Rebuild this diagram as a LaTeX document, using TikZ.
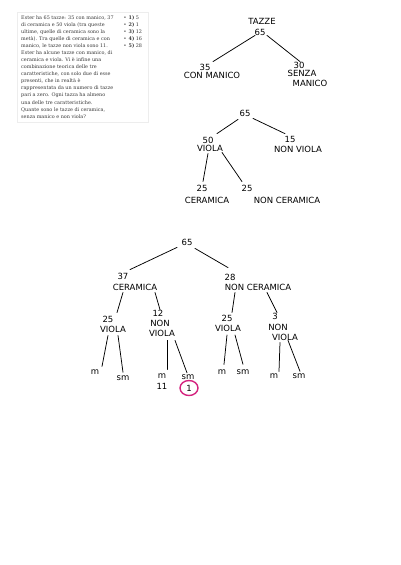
\documentclass[tikz,border=0pt]{standalone}
\usepackage{fontspec}
\setmainfont{DejaVu Serif}
\setsansfont{DejaVu Sans}
\usetikzlibrary{calc}
\definecolor{inkpink}{HTML}{D4237E}
\definecolor{paneltext}{HTML}{3A3A3A}
\begin{document}
\begin{tikzpicture}[x=1pt,y=-1pt,
  hand/.style={font=\sffamily\fontsize{8.5}{9}\selectfont, inner sep=0pt, align=center},
  edge/.style={line width=0.75pt, line cap=round},
  paneltxt/.style={font=\fontsize{4.9}{7.05}\selectfont, text=paneltext, inner sep=0pt, align=left, anchor=north west}]
\useasboundingbox[fill=white] (0,0) rectangle (400,565);

% ---- text panel ----
\draw[black!7, fill=white] (17,12) rectangle (148,122);
\node[paneltxt] (question) at (21,15.5) {Ester ha 65 tazze: 35 con manico, 37\\
di ceramica e 50 viola (tra queste\\
ultime, quelle di ceramica sono la\\
metà). Tra quelle di ceramica e con\\
manico, le tazze non viola sono 11.\\
Ester ha alcune tazze con manico, di\\
ceramica e viola. Vi è infine una\\
combinazione teorica delle tre\\
caratteristiche, con solo due di esse\\
presenti, che in realtà è\\
rappresentata da un numero di tazze\\
pari a zero. Ogni tazza ha almeno\\
una delle tre caratteristiche.\\
Quante sono le tazze di ceramica,\\
senza manico e non viola?};
\node[paneltxt] (answers) at (123.5,15.5) {•\hspace{2pt}\textbf{1)} 5\\
•\hspace{2pt}\textbf{2)} 1\\
•\hspace{2pt}\textbf{3)} 12\\
•\hspace{2pt}\textbf{4)} 16\\
•\hspace{2pt}\textbf{5)} 28};

% ---- tree 1 ----
\node[hand] (tz) at (262,21) {TAZZE};
\node[hand] (t65) at (260,32) {65};
\node[hand] (n35) at (205,67) {35};
\node[hand] (l35) at (212,75.5) {CON MANICO};
\node[hand] (n30) at (299,65) {30};
\node[hand] (s30) at (302,73.5) {SENZA};
\node[hand] (m30) at (310,83.5) {MANICO};
\draw[edge] ($(t65.south)+(-5,0)$) -- ($(n35.north)+(8,-2)$);
\draw[edge] ($(t65.south)+(7,0)$) -- ($(n30.north)+(1,0)$);

% ---- tree 2 ----
\node[hand] (a65) at (245,113) {65};
\node[hand] (n50) at (208,140) {50};
\node[hand] (v50) at (210,148) {VIOLA};
\node[hand] (n15) at (290,139) {15};
\node[hand] (l15) at (298,149) {NON VIOLA};
\node[hand] (n25a) at (202,188) {25};
\node[hand] (c25a) at (207,200) {CERAMICA};
\node[hand] (n25b) at (247,188) {25};
\node[hand] (c25b) at (287,200) {NON CERAMICA};
\draw[edge] ($(a65.south)+(-7,3)$) -- ($(n50.north)+(9,-3)$);
\draw[edge] ($(a65.south)+(8,2)$) -- ($(n15.north)+(-5,-2)$);
\draw[edge] ($(v50.south)+(-2,2)$) -- ($(n25a.north)+(1,-3)$);
\draw[edge] ($(v50.south)+(12,1)$) -- ($(n25b.north)+(-5,-3)$);

% ---- tree 3 ----
\node[hand] (b65) at (187,242) {65};
\node[hand] (n37) at (123,276) {37};
\node[hand] (c37) at (135,287) {CERAMICA};
\node[hand] (n28) at (230,277) {28};
\node[hand] (c28) at (258,287) {NON CERAMICA};
\node[hand] (n25c) at (108,319) {25};
\node[hand] (v25c) at (113,329.5) {VIOLA};
\node[hand] (n12) at (158,313) {12};
\node[hand] (o12) at (160,323) {NON};
\node[hand] (v12) at (162,333) {VIOLA};
\node[hand] (n25d) at (227,318) {25};
\node[hand] (v25d) at (228,328.5) {VIOLA};
\node[hand] (n3) at (275,316) {3};
\node[hand] (o3) at (278,327) {NON};
\node[hand] (v3) at (285,337) {VIOLA};
\node[hand] (m1) at (95,372) {m};
\node[hand] (s1) at (123,378) {sm};
\node[hand] (m2) at (162,376) {m};
\node[hand] (k11) at (162,386.5) {11};
\node[hand] (s2) at (188,377.5) {sm};
\node[hand] (k1) at (189,388) {1};
\node[hand] (m3) at (222,372) {m};
\node[hand] (s3) at (243,372) {sm};
\node[hand] (m4) at (274,376) {m};
\node[hand] (s4) at (299,376) {sm};

\draw[edge] ($(b65.south)+(-10,2)$) -- ($(n37.north)+(7,-3)$);
\draw[edge] ($(b65.south)+(8,3)$) -- ($(n28.north)+(-2,-6)$);
\draw[edge] ($(c37.south)+(-12,2)$) -- ($(n25c.north)+(9,-3)$);
\draw[edge] ($(c37.south)+(20,2)$) -- ($(n12.north)+(2,0)$);
\draw[edge] ($(c28.south)+(-23,2)$) -- ($(n25d.north)+(5,-2)$);
\draw[edge] ($(c28.south)+(9,2)$) -- ($(n3.north)+(2,0)$);
\draw[edge] ($(v25c.south)+(-5,2.5)$) -- ($(m1.north)+(7,-3)$);
\draw[edge] ($(v25c.south)+(5,2.5)$) -- ($(s1.north)+(0,-3)$);
\draw[edge] ($(v12.south)+(5,4)$) -- ($(m2.north)+(5,-4)$);
\draw[edge] ($(v12.south)+(13,4)$) -- ($(s2.north)+(-1,-2)$);
\draw[edge] ($(v25d.south)+(-1,3)$) -- ($(m3.north)+(2,-5)$);
\draw[edge] ($(v25d.south)+(7,3)$) -- ($(s3.north)+(0,-5)$);
\draw[edge] ($(v3.south)+(-5,2)$) -- ($(m4.north)+(5,-2)$);
\draw[edge] ($(v3.south)+(3,0)$) -- ($(s4.north)+(1,-2)$);

\draw[inkpink, line width=1.4pt] (k1.center) ellipse [x radius=9, y radius=7.5];
\end{tikzpicture}
\end{document}
